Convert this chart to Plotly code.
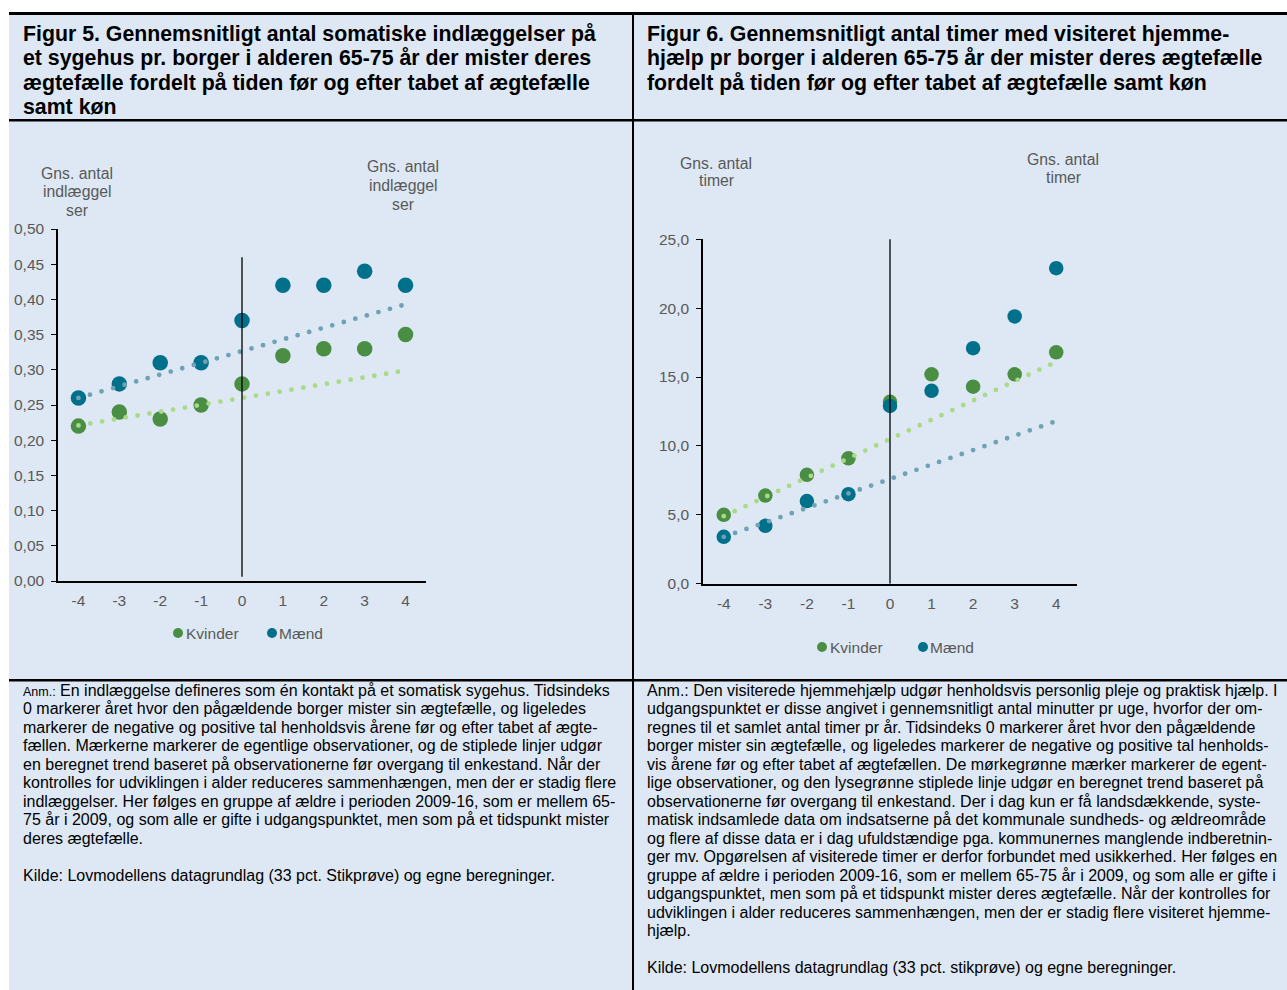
import plotly.graph_objects as go

# ---- data -------------------------------------------------------------
aar = [-4, -3, -2, -1, 0, 1, 2, 3, 4]
aar_labels = ["-4", "-3", "-2", "-1", "0", "1", "2", "3", "4"]

# Figur 5: somatiske indlæggelser pr. borger
indl_kvinder = [0.22, 0.24, 0.23, 0.25, 0.28, 0.32, 0.33, 0.33, 0.35]
indl_maend = [0.26, 0.28, 0.31, 0.31, 0.37, 0.42, 0.42, 0.44, 0.42]

# Figur 6: visiterede timer hjemmehjælp pr. borger
timer_kvinder = [5.0, 6.4, 7.9, 9.1, 13.2, 15.2, 14.3, 15.2, 16.8]
timer_maend = [3.4, 4.2, 6.0, 6.5, 12.9, 14.0, 17.1, 19.4, 22.9]

# trendlinjer (endepunkter ved tidsindeks -4 og 4)
trend_x = [-4, 4]
indl_trend_kvinder = [0.221, 0.299]
indl_trend_maend = [0.260, 0.393]
timer_trend_kvinder = [4.9, 16.1]
timer_trend_maend = [3.4, 11.8]

serier = ["Kvinder", "Mænd"]

# ---- style ------------------------------------------------------------
W, H = 1287, 990
FONT = "Liberation Sans, Arial, sans-serif"
BG = "#DDE8F4"
GREEN = "#4A8E44"
TEAL = "#00708B"
GREEN_TREND = "#A9DA86"
TEAL_TREND = "#6EA2B4"
GREY_TXT = "#595959"


def px_x(x):
    return x / W


def px_y(y):
    return 1 - y / H


fig = go.Figure()


def add_panel(xa, ya, ya2, x_px, y_px, yrange, fmt, kv, ma, tr_kv, tr_ma, msize):
    xname = "x" if xa == 1 else f"x{xa}"
    yname = "y" if ya == 1 else f"y{ya}"
    fig.add_trace(go.Scatter(x=aar, y=kv, mode="markers", name=serier[0],
                             marker=dict(color=GREEN, size=msize),
                             xaxis=xname, yaxis=yname, showlegend=False))
    fig.add_trace(go.Scatter(x=aar, y=ma, mode="markers", name=serier[1],
                             marker=dict(color=TEAL, size=msize),
                             xaxis=xname, yaxis=yname, showlegend=False))
    fig.add_trace(go.Scatter(x=trend_x, y=tr_ma, mode="lines",
                             line=dict(color=TEAL_TREND, width=4.8, dash="0px,12px"),
                             xaxis=xname, yaxis=yname, showlegend=False,
                             hoverinfo="skip"))
    fig.add_trace(go.Scatter(x=trend_x, y=tr_kv, mode="lines",
                             line=dict(color=GREEN_TREND, width=4.8, dash="0px,12px"),
                             xaxis=xname, yaxis=yname, showlegend=False,
                             hoverinfo="skip"))

    xdom = [px_x(x_px[0]), px_x(x_px[1])]
    ydom = [px_y(y_px[1]), px_y(y_px[0])]
    tickfont = dict(family=FONT, size=15.5, color=GREY_TXT)
    step = yrange[1] / 10 if fmt == ".2f" else 5
    yax = dict(range=yrange, tickformat=fmt, dtick=step,
               ticks="outside", ticklen=5, tickcolor="black", tickwidth=1,
               showline=True, linecolor="black", linewidth=1.5,
               showgrid=False, zeroline=False, tickfont=tickfont,
               ticklabelstandoff=4, fixedrange=True)
    fig.update_layout(**{
        ("xaxis" if xa == 1 else f"xaxis{xa}"): dict(
            domain=xdom, anchor=yname, range=[-4.5, 4.5],
            tickvals=aar, ticktext=aar_labels, ticks="", showline=True,
            linecolor="black", linewidth=1.5, showgrid=False, zeroline=False,
            tickfont=tickfont, ticklabelstandoff=5, fixedrange=True),
        ("yaxis" if ya == 1 else f"yaxis{ya}"): dict(
            domain=ydom, anchor=xname, **yax),
        f"yaxis{ya2}": dict(
            overlaying=yname, anchor=xname, side="right", **yax),
    })


# Figur 5 (venstre)
add_panel(1, 1, 2, (58, 426), (229, 581), [0, 0.5], ".2f",
          indl_kvinder, indl_maend, indl_trend_kvinder, indl_trend_maend, 15.5)
# Figur 6 (højre)
add_panel(2, 3, 4, (703, 1077), (239.3, 583.7), [0, 25], ".1f",
          timer_kvinder, timer_maend, timer_trend_kvinder, timer_trend_maend, 14.5)

shapes = []
# panel backgrounds and frame lines
shapes.append(dict(type="rect", xref="paper", yref="paper", layer="below",
                   x0=px_x(9), x1=px_x(632), y0=px_y(990), y1=px_y(13),
                   fillcolor=BG, line=dict(width=0)))
shapes.append(dict(type="rect", xref="paper", yref="paper", layer="below",
                   x0=px_x(634), x1=1, y0=px_y(990), y1=px_y(13),
                   fillcolor=BG, line=dict(width=0)))
for y0, y1 in [(12, 15), (119, 121.5), (679, 681.5)]:
    shapes.append(dict(type="rect", xref="paper", yref="paper",
                       x0=px_x(9), x1=1, y0=px_y(y1), y1=px_y(y0),
                       fillcolor="black", line=dict(width=0)))
shapes.append(dict(type="rect", xref="paper", yref="paper",
                   x0=px_x(632), x1=px_x(634), y0=0, y1=px_y(12),
                   fillcolor="black", line=dict(width=0)))
# vertical marker at tidsindeks 0
shapes.append(dict(type="line", xref="x", yref="y", x0=0, x1=0, y0=0.006, y1=0.46,
                   line=dict(color="black", width=1.3)))
shapes.append(dict(type="line", xref="x2", yref="y3", x0=0, x1=0, y0=0, y1=25.1,
                   line=dict(color="black", width=1.3)))

annotations = []


def text_lines(lines, x, y0, dy, size, color="black", bold=False, xanchor="left"):
    for i, t in enumerate(lines):
        if not t:
            continue
        annotations.append(dict(
            xref="paper", yref="paper", x=px_x(x), y=px_y(y0 + i * dy),
            xanchor=xanchor, yanchor="middle", showarrow=False,
            text=(f"<b>{t}</b>" if bold else t),
            font=dict(family=FONT, size=size, color=color)))


# headers
text_lines(["Figur 5. Gennemsnitligt antal somatiske indlæggelser på",
            "et sygehus pr. borger i alderen 65-75 år der mister deres",
            "ægtefælle fordelt på tiden før og efter tabet af ægtefælle",
            "samt køn"], 21, 34, 24.4, 21.3, bold=True)
text_lines(["Figur 6. Gennemsnitligt antal timer med visiteret hjemme-",
            "hjælp pr borger i alderen 65-75 år der mister deres ægtefælle",
            "fordelt på tiden før og efter tabet af ægtefælle samt køn"],
           645, 34, 24.4, 21.3, bold=True)

# axis titles
text_lines(["Gns. antal", "indlæggel", "ser"], 77, 173, 18.5, 15.8, GREY_TXT,
           xanchor="center")
text_lines(["Gns. antal", "indlæggel", "ser"], 403, 167, 18.5, 15.8, GREY_TXT,
           xanchor="center")
text_lines(["Gns. antal", "timer"], 716, 163, 18, 15.8, GREY_TXT, xanchor="center")
text_lines(["Gns. antal", "timer"], 1063, 159, 18, 15.8, GREY_TXT, xanchor="center")

# legends
LEG_R = 5
for (mx, my, tx), navn, col in [((178, 633, 184), serier[0], GREEN),
                                ((272, 633, 277), serier[1], TEAL),
                                ((822, 647, 828), serier[0], GREEN),
                                ((923, 647, 928), serier[1], TEAL)]:
    shapes.append(dict(type="circle", xref="paper", yref="paper",
                       xsizemode="pixel", ysizemode="pixel",
                       xanchor=px_x(mx), yanchor=px_y(my),
                       x0=-LEG_R, x1=LEG_R, y0=-LEG_R, y1=LEG_R,
                       fillcolor=col, line=dict(width=0)))
    text_lines([navn], tx, my, 0, 15.5, GREY_TXT)

# notes
noter_5 = [
    "<span style='font-size:12.5px'>Anm.:</span> En indlæggelse defineres som én kontakt på et somatisk sygehus. Tidsindeks",
    "0 markerer året hvor den pågældende borger mister sin ægtefælle, og ligeledes",
    "markerer de negative og positive tal henholdsvis årene før og efter tabet af ægte-",
    "fællen. Mærkerne markerer de egentlige observationer, og de stiplede linjer udgør",
    "en beregnet trend baseret på observationerne før overgang til enkestand. Når der",
    "kontrolles for udviklingen i alder reduceres sammenhængen, men der er stadig flere",
    "indlæggelser. Her følges en gruppe af ældre i perioden 2009-16, som er mellem 65-",
    "75 år i 2009, og som alle er gifte i udgangspunktet, men som på et tidspunkt mister",
    "deres ægtefælle.",
    "",
    "Kilde: Lovmodellens datagrundlag (33 pct. Stikprøve) og egne beregninger.",
]
noter_6 = [
    "Anm.: Den visiterede hjemmehjælp udgør henholdsvis personlig pleje og praktisk hjælp. I",
    "udgangspunktet er disse angivet i gennemsnitligt antal minutter pr uge, hvorfor der om-",
    "regnes til et samlet antal timer pr år. Tidsindeks 0 markerer året hvor den pågældende",
    "borger mister sin ægtefælle, og ligeledes markerer de negative og positive tal henholds-",
    "vis årene før og efter tabet af ægtefællen. De mørkegrønne mærker markerer de egent-",
    "lige observationer, og den lysegrønne stiplede linje udgør en beregnet trend baseret på",
    "observationerne før overgang til enkestand. Der i dag kun er få landsdækkende, syste-",
    "matisk indsamlede data om indsatserne på det kommunale sundheds- og ældreområde",
    "og flere af disse data er i dag ufuldstændige pga. kommunernes manglende indberetnin-",
    "ger mv. Opgørelsen af visiterede timer er derfor forbundet med usikkerhed. Her følges en",
    "gruppe af ældre i perioden 2009-16, som er mellem 65-75 år i 2009, og som alle er gifte i",
    "udgangspunktet, men som på et tidspunkt mister deres ægtefælle. Når der kontrolles for",
    "udviklingen i alder reduceres sammenhængen, men der er stadig flere visiteret hjemme-",
    "hjælp.",
    "",
    "Kilde: Lovmodellens datagrundlag (33 pct. stikprøve) og egne beregninger.",
]
text_lines(noter_5, 21, 690, 18.5, 16)
text_lines(noter_6, 645, 690, 18.5, 16)

fig.update_layout(
    width=W, height=H,
    margin=dict(l=0, r=0, t=0, b=0, pad=0, autoexpand=False),
    paper_bgcolor="white", plot_bgcolor="rgba(0,0,0,0)",
    separators=",.", showlegend=False,
    font=dict(family=FONT, color=GREY_TXT),
    shapes=shapes, annotations=annotations,
)

# round caps turn the zero-length dashes into dots
post = """
document.querySelectorAll('.scatterlayer .js-line').forEach(function(p){
  p.style.strokeLinecap = 'round';
});
"""
fig.write_html("out.html", post_script=post, config={"displayModeBar": False})
